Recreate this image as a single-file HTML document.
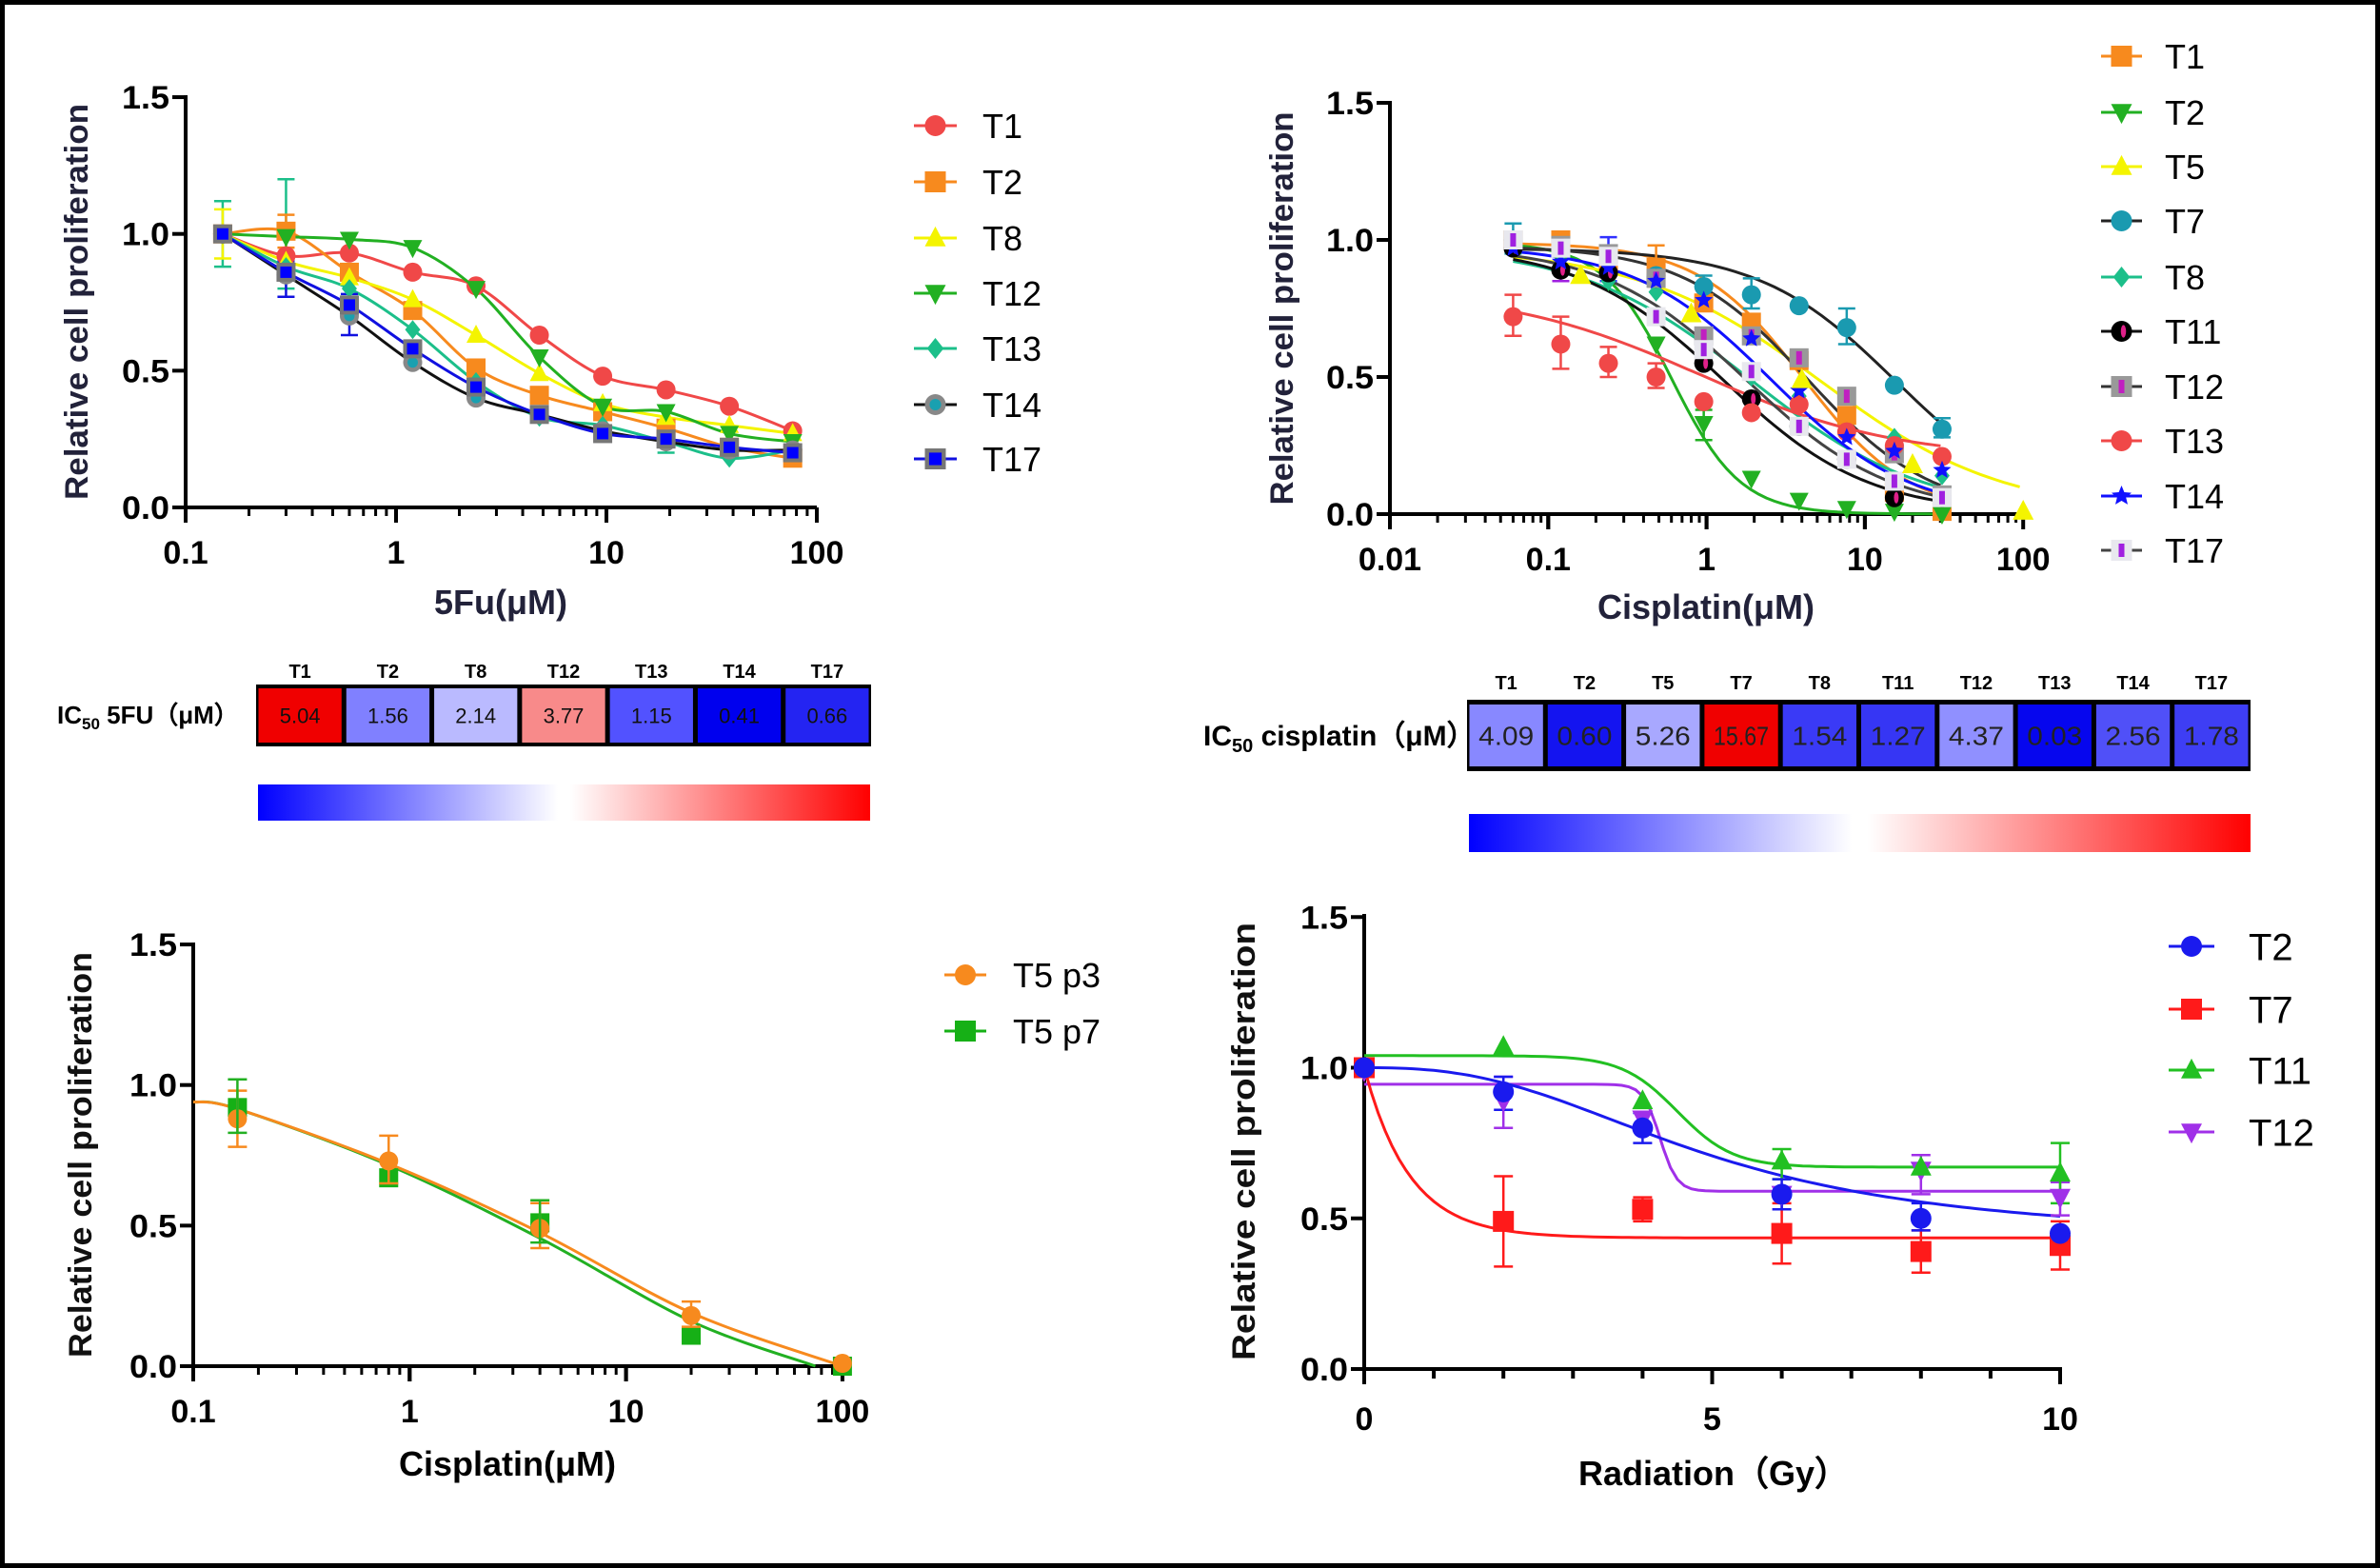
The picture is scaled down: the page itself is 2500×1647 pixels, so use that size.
<!DOCTYPE html>
<html><head><meta charset="utf-8"><style>
html,body{margin:0;padding:0;background:#fff}
svg{display:block}
text{font-family:"Liberation Sans",Arial,sans-serif}
</style></head><body>
<svg id="s" width="2500" height="1647" viewBox="0 0 2500 1647" xmlns="http://www.w3.org/2000/svg">
<defs>
<linearGradient id="cb" x1="0" x2="1" y1="0" y2="0">
<stop offset="0" stop-color="#0000ff"/><stop offset="0.49" stop-color="#ffffff"/><stop offset="0.51" stop-color="#ffffff"/><stop offset="1" stop-color="#ff0000"/>
</linearGradient>
</defs>
<rect x="2.5" y="2.5" width="2495" height="1642" fill="#fff" stroke="#000" stroke-width="5"/>
<g id="g"></g>
</svg>
<script>
var G=document.getElementById('g'),NS='http://www.w3.org/2000/svg';
function el(t,a,txt){var e=document.createElementNS(NS,t);for(var k in a)e.setAttribute(k,a[k]);if(txt!==undefined)e.textContent=txt;G.appendChild(e);return e;}
function L(x1,y1,x2,y2,w,c){el('line',{x1:x1,y1:y1,x2:x2,y2:y2,stroke:c||'#000','stroke-width':w||4});}
function T(x,y,s,sz,anc,wt,col,extra){var a={x:x,y:y,'font-size':sz,'text-anchor':anc||'middle','font-weight':wt||'normal',fill:col||'#000'};if(extra)for(var k in extra)a[k]=extra[k];return el('text',a,s);}
function smooth(P){if(P.length<2)return'';var d='M'+P[0][0].toFixed(1)+' '+P[0][1].toFixed(1);
for(var i=0;i<P.length-1;i++){var p0=P[i-1]||P[i],p1=P[i],p2=P[i+1],p3=P[i+2]||p2;
var c1=[p1[0]+(p2[0]-p0[0])/6,p1[1]+(p2[1]-p0[1])/6],c2=[p2[0]-(p3[0]-p1[0])/6,p2[1]-(p3[1]-p1[1])/6];
d+=' C'+c1[0].toFixed(1)+' '+c1[1].toFixed(1)+' '+c2[0].toFixed(1)+' '+c2[1].toFixed(1)+' '+p2[0].toFixed(1)+' '+p2[1].toFixed(1);}return d;}
function curve(P,c,w){el('path',{d:smooth(P),fill:'none',stroke:c,'stroke-width':w||3});}
function marker(type,x,y,c,r){r=r||10;
 if(type=='o')el('circle',{cx:x,cy:y,r:r,fill:c});
 else if(type=='s')el('rect',{x:x-r,y:y-r,width:2*r,height:2*r,fill:c});
 else if(type=='^')el('polygon',{points:(x)+','+(y-r*1.1)+' '+(x-r)+','+(y+r*0.8)+' '+(x+r)+','+(y+r*0.8),fill:c});
 else if(type=='v')el('polygon',{points:(x)+','+(y+r*1.1)+' '+(x-r)+','+(y-r*0.8)+' '+(x+r)+','+(y-r*0.8),fill:c});
 else if(type=='d')el('polygon',{points:x+','+(y-r)+' '+(x+r*0.8)+','+y+' '+x+','+(y+r)+' '+(x-r*0.8)+','+y,fill:c});
 else if(type=='gc'){el('circle',{cx:x,cy:y,r:r,fill:'#888'});el('circle',{cx:x,cy:y,r:r*0.55,fill:'#1aa0b0'});}
 else if(type=='bs'){el('rect',{x:x-r,y:y-r,width:2*r,height:2*r,fill:'#777'});el('rect',{x:x-r*0.6,y:y-r*0.6,width:1.2*r,height:1.2*r,fill:'#0000ff'});}
 else if(type=='k'){el('circle',{cx:x,cy:y,r:r,fill:'#000'});el('ellipse',{cx:x+2,cy:y,rx:r*0.25,ry:r*0.6,fill:'#e0208a'});}
 else if(type=='gs'){el('rect',{x:x-r,y:y-r,width:2*r,height:2*r,fill:'#999'});el('rect',{x:x-3,y:y-7,width:6,height:14,fill:'#c020c0'});}
 else if(type=='ls'){el('rect',{x:x-r,y:y-r,width:2*r,height:2*r,fill:'#e8e8ee'});el('rect',{x:x-3,y:y-7,width:6,height:14,fill:'#a020e0'});}
 else if(type=='*'){var p='';for(var i=0;i<10;i++){var a=-Math.PI/2+i*Math.PI/5,rr=i%2?r*0.45:r;p+=(x+rr*Math.cos(a)).toFixed(1)+','+(y+rr*Math.sin(a)).toFixed(1)+' ';}el('polygon',{points:p,fill:c});}
}
function legend(x1,x2,tx,y,type,c,lab,sz,lc){L(x1,y,x2,y,3,lc||c);marker(type,(x1+x2)/2,y,c,11);T(tx,y+sz*0.36,lab,sz,'start');}
function yaxis(ax,y0,k,top,title,tcx,tcy,tlen,tcol){
 L(ax,top-2,ax,y0+2,4);
 [0,0.5,1.0,1.5].forEach(function(v){var y=y0-k*v;L(ax-14,y,ax,y,4);T(ax-17,y+12,v.toFixed(1),34,'end','bold','#000',{textLength:50,lengthAdjust:'spacingAndGlyphs'});});
 T(tcx,tcy,title,34,'middle','bold',tcol||'#22223a',{transform:'rotate(-90 '+tcx+' '+tcy+')',textLength:tlen,lengthAdjust:'spacingAndGlyphs'});
}
function logx(ax,y0,dec,d0,nd,labs,ly){
 L(ax-2,y0,ax+dec*nd,y0,4);
 for(var d=0;d<nd;d++){for(var m=1;m<=10;m++){var x=ax+dec*(d+Math.log10(m));var major=(m==1||m==10);L(x,y0,x,y0+(major?16:9),major?4:3);}}
 for(var i=0;i<=nd;i++)T(ax+dec*i,ly,labs[i],34,'middle','bold');
}
function hill(top,bot,ic,h){return function(x){return bot+(top-bot)/(1+Math.pow(x/ic,h));};}

// ---------- Panel A ----------
(function(){var ax=195,y0=533,k=287.3,dec=221;
 function X(v){return ax+dec*Math.log10(v/0.1);} function Y(v){return y0-k*v;}
 yaxis(ax,y0,k,102,'Relative cell proliferation',92,317,416);
 logx(ax,y0,dec,0.1,3,['0.1','1','10','100'],592);
 T(526,645,'5Fu(\u03bcM)',36,'middle','bold','#22223a');
 var xs=[0.15,0.3,0.6,1.2,2.4,4.8,9.6,19.2,38.4,76.8];
 var S=[
 ['T1','o','#f04848','#f04848',[1.0,0.92,0.93,0.86,0.81,0.63,0.48,0.43,0.37,0.28]],
 ['T2','s','#f78a1e','#f78a1e',[1.0,1.01,0.86,0.72,0.51,0.41,0.35,0.29,0.22,0.18]],
 ['T8','^','#f4f400','#f4f400',[1.0,0.9,0.84,0.76,0.63,0.49,0.38,0.33,0.30,0.27]],
 ['T12','v','#22b022','#22b022',[1.0,0.99,0.98,0.95,0.80,0.55,0.37,0.35,0.27,0.24]],
 ['T13','d','#1cbf8a','#1cbf8a',[1.0,0.88,0.80,0.65,0.46,0.33,0.30,0.24,0.18,0.21]],
 ['T14','gc','#888','#111',[1.0,0.85,0.70,0.53,0.40,0.34,0.28,0.24,0.21,0.21]],
 ['T17','bs','#00f','#1010e0',[1.0,0.86,0.74,0.58,0.44,0.34,0.27,0.25,0.22,0.20]]];
 S.forEach(function(s){curve(xs.map(function(x,i){return[X(x),Y(s[4][i])];}),s[3],3);});
 function eb(x,a,b,c){L(X(x),Y(a),X(x),Y(b),2.5,c);L(X(x)-9,Y(a),X(x)+9,Y(a),2.5,c);L(X(x)-9,Y(b),X(x)+9,Y(b),2.5,c);}
 eb(0.15,0.88,1.12,'#1cbf8a');eb(0.3,0.8,1.2,'#1cbf8a');eb(0.3,0.77,0.9,'#1010e0');eb(0.6,0.63,0.78,'#1010e0');eb(0.3,0.95,1.07,'#f78a1e');eb(0.15,0.91,1.09,'#f4f400');eb(19.2,0.2,0.3,'#1cbf8a');
 S.forEach(function(s){xs.forEach(function(x,i){marker(s[1],X(x),Y(s[4][i]),s[2],10);});});
 var ly=[132,191,250,308,366,425,482];
 S.forEach(function(s,i){legend(960,1005,1032,ly[i],s[1],s[2],s[0],36,s[3]);});
 var labs=['T1','T2','T8','T12','T13','T14','T17'],vals=['5.04','1.56','2.14','3.77','1.15','0.41','0.66'],
 cols=['#f00000','#8080ff','#babaff','#f88a8a','#5252ff','#0000ee','#2424f2'];
 var hx=269,hw=(915-269)/7,hy=719,hh=65;
 el('rect',{x:hx,y:hy,width:915-hx,height:hh,fill:'#000'});
 for(var i=0;i<7;i++){el('rect',{x:hx+i*hw+2.5,y:hy+4,width:hw-5,height:hh-8,fill:cols[i]});
  T(hx+(i+0.5)*hw,hy+hh/2+8,vals[i],22,'middle','normal','#111');T(hx+(i+0.5)*hw,712,labs[i],20,'middle','bold');}
 var t=T(60,760,'',26,'start','bold');
 t.innerHTML='<tspan>IC</tspan><tspan font-size="17" dy="6">50</tspan><tspan dy="-6"> 5FU\uff08\u03bcM\uff09</tspan>';
 el('rect',{x:271,y:824,width:643,height:38,fill:'url(#cb)'});
})();

// ---------- Panel B ----------
(function(){var ax=1460,y0=540,k=288,dec=166.3;
 function X(v){return ax+dec*Math.log10(v/0.01);} function Y(v){return y0-k*v;}
 yaxis(ax,y0,k,108,'Relative cell proliferation',1358,324,413);
 logx(ax,y0,dec,0.01,4,['0.01','0.1','1','10','100'],599);
 T(1792,650,'Cisplatin(\u03bcM)',36,'middle','bold','#22223a');
 var xs=[0.06,0.12,0.24,0.48,0.96,1.92,3.84,7.68,15.36,30.72];
 var S=[
 ['T1','s','#f78a1e','#f78a1e',[1.0,1.0,0.92,0.90,0.77,0.70,0.56,0.36,0.08,0.01],hill(0.99,0,4.09,1.3),30.72],
 ['T2','v','#22b022','#22b022',[0.98,0.93,0.85,0.62,0.33,0.13,0.05,0.02,0.01,0.0],hill(0.99,0,0.6,2.0),30.72],
 ['T5','^','#f4f400','#f4f400',null,hill(0.97,0,5.26,0.75),100],
 ['T7','o','#1a9ab0','#222',[1.0,0.97,0.95,0.87,0.83,0.80,0.76,0.68,0.47,0.31],hill(0.97,0,15.67,1.0),30.72],
 ['T8','d','#1cbf8a','#1cbf8a',[0.97,0.95,0.85,0.81,0.64,0.50,0.43,0.30,0.28,0.14],hill(0.98,0,1.9,0.8),30.72],
 ['T11','k','#000','#111',[0.97,0.89,0.88,0.86,0.55,0.42,0.32,0.20,0.06,0.06],hill(0.98,0,1.27,0.95),30.72],
 ['T12','gs','#999','#333',[1.0,0.98,0.95,0.86,0.65,0.65,0.57,0.43,0.22,0.07],hill(0.98,0,4.37,1.1),30.72],
 ['T13','o','#f04848','#f04848',[0.72,0.62,0.55,0.50,0.41,0.37,0.40,0.30,0.25,0.21],hill(0.82,0.2,0.9,0.7),30.72],
 ['T14','*','#1010ff','#1010ff',[0.97,0.92,0.9,0.85,0.78,0.64,0.45,0.28,0.23,0.16],hill(0.98,0,2.56,1.0),30.72],
 ['T17','ls','#eee','#444',[1.0,0.97,0.94,0.72,0.6,0.52,0.32,0.2,0.12,0.06],hill(0.98,0,1.78,0.95),30.72]];
 S.forEach(function(s){var P=[];for(var lx=Math.log10(0.06);lx<=Math.log10(s[6])+1e-9;lx+=0.05){var x=Math.pow(10,lx);P.push([X(x),Y(s[5](x))]);}
  el('path',{d:'M'+P.map(function(p){return p[0].toFixed(1)+' '+p[1].toFixed(1);}).join(' L'),fill:'none',stroke:s[3],'stroke-width':3});});
 function eb(x,a,b,c){L(X(x),Y(a),X(x),Y(b),2.5,c);L(X(x)-9,Y(a),X(x)+9,Y(a),2.5,c);L(X(x)-9,Y(b),X(x)+9,Y(b),2.5,c);}
 eb(0.06,0.65,0.80,'#f04848');eb(0.12,0.53,0.72,'#f04848');eb(0.24,0.5,0.61,'#f04848');eb(0.48,0.46,0.55,'#f04848');
 eb(0.96,0.27,0.38,'#22b022');eb(0.96,0.78,0.87,'#1a9ab0');eb(1.92,0.75,0.86,'#1a9ab0');eb(7.68,0.62,0.75,'#1a9ab0');eb(30.72,0.28,0.35,'#1a9ab0');
 eb(0.48,0.83,0.98,'#f78a1e');eb(0.12,0.85,1.03,'#a020e0');eb(0.24,0.85,1.01,'#3030ff');eb(0.06,0.95,1.06,'#1a9ab0');
 S.forEach(function(s){if(s[4])xs.forEach(function(x,i){marker(s[1],X(x),Y(s[4][i]),s[2],10);});});
 [[0.16,0.87],[0.8,0.73],[4,0.49],[20,0.18],[100,0.01]].forEach(function(p){marker('^',X(p[0]),Y(p[1]),'#f4f400',11);});
 var ly=[59,118,175,232,291,348,406,463,521,578];
 S.forEach(function(s,i){legend(2207,2250,2274,ly[i],s[1],s[2],s[0],36,s[3]);});
 var labs=['T1','T2','T5','T7','T8','T11','T12','T13','T14','T17'],
 vals=['4.09','0.60','5.26','15.67','1.54','1.27','4.37','0.03','2.56','1.78'],
 cols=['#8888ff','#1414f0','#a8a8ff','#f00000','#3a3af6','#3636f4','#9090ff','#0606ee','#5050f8','#3e3ef4'];
 var hx=1541,hw=(2364-1541)/10,hy=735,hh=75;
 el('rect',{x:hx,y:hy,width:2364-hx,height:hh,fill:'#000'});
 for(var i=0;i<10;i++){el('rect',{x:hx+i*hw+2.5,y:hy+5,width:hw-5,height:hh-10,fill:cols[i]});
  T(hx+(i+0.5)*hw,hy+hh/2+10,vals[i],28,'middle','normal','#222',{textLength:hw-14>60?58:hw-14,lengthAdjust:'spacingAndGlyphs'});T(hx+(i+0.5)*hw,724,labs[i],20,'middle','bold');}
 var t=T(1264,783,'',30,'start','bold');
 t.innerHTML='<tspan>IC</tspan><tspan font-size="20" dy="7">50</tspan><tspan dy="-7"> cisplatin\uff08\u03bcM\uff09</tspan>';
 el('rect',{x:1543,y:855,width:821,height:40,fill:'url(#cb)'});
})();

// ---------- Panel C ----------
(function(){var ax=203,y0=1435,k=295.3,dec=227.3;
 function X(v){return ax+dec*Math.log10(v/0.1);} function Y(v){return y0-k*v;}
 yaxis(ax,y0,k,992,'Relative cell proliferation',96,1213,426,'#111');
 logx(ax,y0,dec,0.1,3,['0.1','1','10','100'],1494);
 T(533,1550,'Cisplatin(\u03bcM)',36,'middle','bold');
 function lp(a){return a.map(function(p){return[X(p[0]),Y(p[1])];});}
 curve(lp([[0.1,0.94],[0.16,0.915],[0.8,0.715],[4,0.455],[20,0.16],[75,0.0]]),'#22b022',3);
 curve(lp([[0.1,0.94],[0.16,0.915],[0.8,0.72],[4,0.475],[20,0.19],[100,0.0]]),'#f78a1e',3);
 var xs=[0.16,0.8,4,20,100];
 [0.92,0.67,0.51,0.11,0.0].forEach(function(v,i){marker('s',X(xs[i]),Y(v),'#16b016',10);});
 [0.88,0.73,0.49,0.18,0.01].forEach(function(v,i){marker('o',X(xs[i]),Y(v),'#f78a1e',10);});
 [[0.16,0.78,0.98,'#f78a1e'],[0.8,0.65,0.82,'#f78a1e'],[4,0.42,0.58,'#f78a1e'],[20,0.14,0.23,'#f78a1e'],[0.16,0.83,1.02,'#22b022'],[4,0.44,0.59,'#22b022']].forEach(function(e){
  var x=X(e[0]);L(x,Y(e[1]),x,Y(e[2]),2.5,e[3]);L(x-10,Y(e[1]),x+10,Y(e[1]),2.5,e[3]);L(x-10,Y(e[2]),x+10,Y(e[2]),2.5,e[3]);});
 legend(992,1036,1064,1024,'o','#f78a1e','T5 p3',36);
 legend(992,1036,1064,1083,'s','#16b016','T5 p7',36);
})();

// ---------- Panel D ----------
(function(){var ax=1433,y0=1438,k=316.5,sx=73.1;
 function X(v){return ax+sx*v;} function Y(v){return y0-k*v;}
 yaxis(ax,y0,k,962,'Relative cell proliferation',1318,1199,460,'#111');
 L(ax-2,y0,X(10)+2,y0,4);
 for(var i=0;i<=10;i++){var maj=(i%5==0);L(X(i),y0,X(i),y0+(maj?16:10),4);}
 [0,5,10].forEach(function(v){T(X(v),1502,String(v),34,'middle','bold');});
 T(1800,1560,'Radiation\uff08Gy\uff09',36,'middle','bold');
 function fpts(f){var P=[];for(var x=0;x<=10.001;x+=0.1)P.push([X(x),Y(f(x))]);return P;}
 function poly(P,c){el('path',{d:'M'+P.map(function(p){return p[0].toFixed(1)+' '+p[1].toFixed(1);}).join(' L'),fill:'none',stroke:c,'stroke-width':3});}
 poly(fpts(function(x){return 0.67+0.37/(1+Math.exp((x-4.5)/0.4));}),'#22c022');
 poly(fpts(function(x){return 0.59+0.355/(1+Math.exp((x-4.25)/0.12));}),'#a030e8');
 poly(fpts(function(x){return 0.435+0.565*Math.exp(-x/0.65);}),'#ff1a1a');
 poly(fpts(function(x){return 0.43+0.57/(1+Math.pow(x/4.9,2.6));}),'#1a1aee');
 function eb(x,a,b,c){L(X(x),Y(a),X(x),Y(b),2.5,c);L(X(x)-10,Y(a),X(x)+10,Y(a),2.5,c);L(X(x)-10,Y(b),X(x)+10,Y(b),2.5,c);}
 eb(2,0.34,0.64,'#ff1a1a');eb(4,0.49,0.57,'#ff1a1a');eb(6,0.35,0.55,'#ff1a1a');eb(8,0.32,0.46,'#ff1a1a');eb(10,0.33,0.49,'#ff1a1a');
 eb(2,0.80,0.97,'#a030e8');eb(8,0.58,0.71,'#a030e8');eb(10,0.51,0.62,'#a030e8');eb(10,0.55,0.75,'#22c022');eb(6,0.63,0.73,'#22c022');
 eb(2,0.86,0.97,'#1a1aee');eb(4,0.75,0.85,'#1a1aee');eb(6,0.53,0.63,'#1a1aee');eb(8,0.46,0.55,'#1a1aee');
 [[0,0.99],[2,0.89],[4,0.83],[6,0.58],[8,0.66],[10,0.57]].forEach(function(p){marker('v',X(p[0]),Y(p[1]),'#a030e8',11);});
 [[2,1.07],[4,0.89],[6,0.69],[8,0.67],[10,0.65]].forEach(function(p){marker('^',X(p[0]),Y(p[1]),'#22c022',11);});
 [[0,1.0],[2,0.49],[4,0.53],[6,0.45],[8,0.39],[10,0.41]].forEach(function(p){marker('s',X(p[0]),Y(p[1]),'#ff1a1a',11);});
 [[0,1.0],[2,0.92],[4,0.80],[6,0.58],[8,0.50],[10,0.45]].forEach(function(p){marker('o',X(p[0]),Y(p[1]),'#1a1aee',11);});
 legend(2278,2326,2362,994,'o','#1a1aee','T2',40);
 legend(2278,2326,2362,1060,'s','#ff1a1a','T7',40);
 legend(2278,2326,2362,1124,'^','#22c022','T11',40);
 legend(2278,2326,2362,1189,'v','#a030e8','T12',40);
})();
</script>
</body></html>
